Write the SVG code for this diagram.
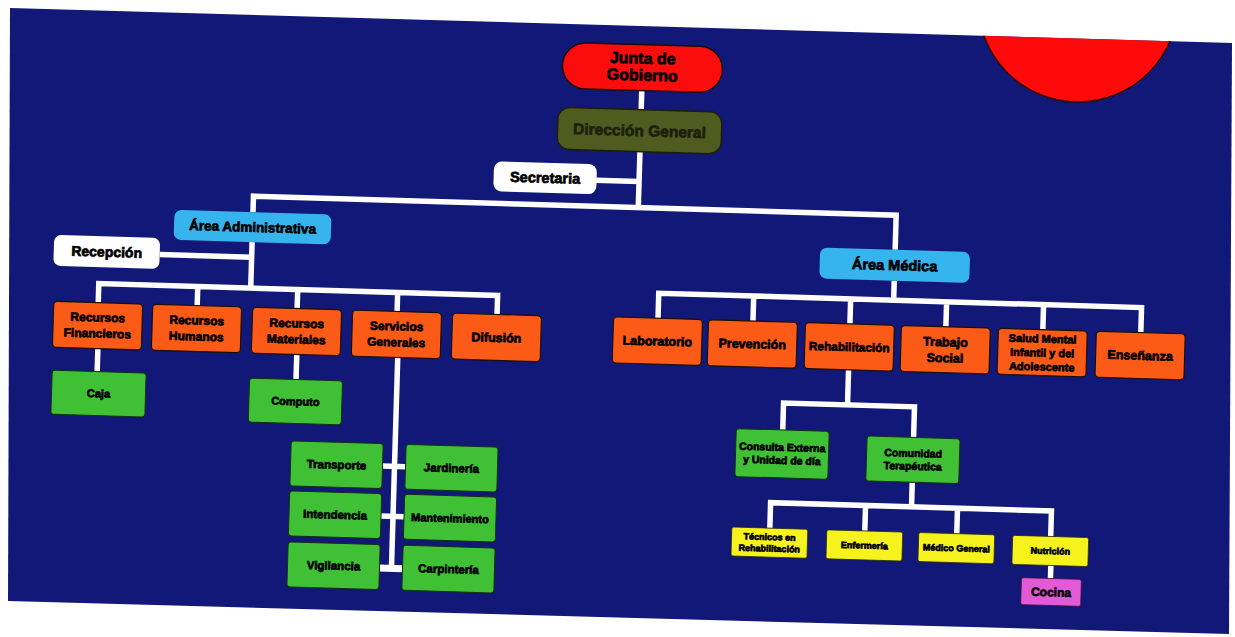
<svg xmlns="http://www.w3.org/2000/svg" width="1235" height="637" viewBox="0 0 1235 637">
<defs>
<clipPath id="slideClip"><polygon points="10,8 1232,43 1229,634 8,601"/></clipPath>
<style>
text{font-family:"Liberation Sans",Arial,sans-serif;font-weight:bold;fill:#000;text-anchor:middle;stroke:#000;stroke-width:0.7}
.red{fill:#fb0d0d;stroke:#1a0a0a;stroke-width:1.5}
.olive{fill:#4f5b1f;stroke:#1c2008;stroke-width:1.5}
.white{fill:#ffffff}
.blue{fill:#36b4ee}
.orange{fill:#fb5b16;stroke:#1a0e08;stroke-width:1.2}
.green{fill:#3fc035;stroke:#123010;stroke-width:1}
.yellow{fill:#f6f21e;stroke:#2a2a08;stroke-width:0.8}
.pink{fill:#e35ad6;stroke:#3a1038;stroke-width:0.8}
.dark{fill:#1d200c;stroke:#1d200c}
#connectors path{fill:none;stroke:#ffffff;stroke-width:5.5}
</style>
</defs>
<rect width="1235" height="637" fill="#ffffff"/>
<polygon points="10,8 1232,43 1229,634 8,601" fill="#111877"/>
<circle cx="1078" cy="2" r="100" fill="#ff0a0a" stroke="#300" stroke-width="1.5" clip-path="url(#slideClip)"/>
<g transform="rotate(1.7 617 318)">
<g id="connectors">
<path d="M635,90 V109"/>
<path d="M635,151 V207"/>
<path d="M592,181 H635"/>
<path d="M250,223 V207 H893 V241.5"/>
<path d="M250,253 V299"/>
<path d="M158,268 H250"/>
<path d="M98,318 V299 H497 V318 M197,299 V318 M297,299 V318 M397,299 V318"/>
<path d="M99,364 V387"/>
<path d="M298,364 V389"/>
<path d="M399,364 V577"/>
<path d="M387,473 H410 M387,523 H410"/>
<path d="M387,575 H410" style="stroke-width:7"/>
<path d="M893,272.5 V292"/>
<path d="M658,317 V292 H1141 V317 M753,292 V317 M850,292 V317 M946,292 V317 M1043,292 V317"/>
<path d="M850,363 V398"/>
<path d="M786,425 V398 H917 V428.5"/>
<path d="M917,473.5 V498"/>
<path d="M776,523.5 V498 H1057 V523.5 M871,498 V523.5 M963,498 V523.5"/>
<path d="M1058,552.5 V565.5"/>
</g>
<g id="junta"><rect class="red" x="555" y="44" width="160" height="46" rx="23"/><text x="635" y="63" font-size="16">Junta de</text><text x="635" y="80" font-size="16">Gobierno</text></g>
<g id="direccion"><rect class="olive" x="552" y="109" width="164" height="42" rx="12"/><text class="dark" x="634" y="135.5" font-size="15.5">Dirección General</text></g>
<g id="secretaria"><rect class="white" x="489.5" y="165" width="103" height="30" rx="8"/><text x="541" y="185" font-size="14.5">Secretaria</text></g>
<g id="area-adm"><rect class="blue" x="171.5" y="223" width="157" height="30" rx="7"/><text x="250" y="242.7" font-size="13.5">Área Administrativa</text></g>
<g id="recepcion"><rect class="white" x="52" y="251.5" width="106" height="31" rx="7"/><text x="105" y="272" font-size="14">Recepción</text></g>
<g id="area-med"><rect class="blue" x="818" y="241.5" width="150" height="31" rx="7"/><text x="893" y="262" font-size="14.5">Área Médica</text></g>
<g id="rec-fin"><rect class="orange" x="53.5" y="318" width="89" height="46" rx="4"/><text x="98" y="337" font-size="12">Recursos</text><text x="98" y="353" font-size="12">Financieros</text></g>
<g id="rec-hum"><rect class="orange" x="152.5" y="318" width="89" height="46" rx="4"/><text x="197" y="337" font-size="12">Recursos</text><text x="197" y="353" font-size="12">Humanos</text></g>
<g id="rec-mat"><rect class="orange" x="252.5" y="318" width="89" height="46" rx="4"/><text x="297" y="337" font-size="12">Recursos</text><text x="297" y="353" font-size="12">Materiales</text></g>
<g id="serv-gen"><rect class="orange" x="352.5" y="318" width="89" height="46" rx="4"/><text x="397" y="337" font-size="12">Servicios</text><text x="397" y="353" font-size="12">Generales</text></g>
<g id="difusion"><rect class="orange" x="452.5" y="318" width="89" height="46" rx="4"/><text x="497" y="345.5" font-size="12.5">Difusión</text></g>
<g id="caja"><rect class="green" x="54" y="387" width="94" height="44" rx="3"/><text x="101" y="412.8" font-size="11">Caja</text></g>
<g id="computo"><rect class="green" x="251.5" y="389" width="93" height="44" rx="3"/><text x="298" y="414.8" font-size="11">Computo</text></g>
<g id="transporte"><rect class="green" x="295" y="450.5" width="92" height="45" rx="3"/><text x="341" y="477" font-size="11.5">Transporte</text></g>
<g id="jardineria"><rect class="green" x="410" y="450.5" width="92" height="45" rx="3"/><text x="456" y="477" font-size="11.5">Jardinería</text></g>
<g id="intendencia"><rect class="green" x="295" y="500.5" width="92" height="45" rx="3"/><text x="341" y="527" font-size="11.5">Intendencia</text></g>
<g id="mantenimiento"><rect class="green" x="410" y="500.5" width="92" height="45" rx="3"/><text x="456" y="527" font-size="11">Mantenimiento</text></g>
<g id="vigilancia"><rect class="green" x="295" y="551.5" width="92" height="45" rx="3"/><text x="341" y="578" font-size="11.5">Vigilancia</text></g>
<g id="carpinteria"><rect class="green" x="410" y="551.5" width="92" height="45" rx="3"/><text x="456" y="578" font-size="11.5">Carpintería</text></g>
<g id="laboratorio"><rect class="orange" x="613.5" y="317" width="89" height="46" rx="4"/><text x="658" y="344.3" font-size="12.5">Laboratorio</text></g>
<g id="prevencion"><rect class="orange" x="708.5" y="317" width="89" height="46" rx="4"/><text x="753" y="344.3" font-size="12.5">Prevención</text></g>
<g id="rehabilitacion"><rect class="orange" x="805.5" y="317" width="89" height="46" rx="4"/><text x="850" y="344.2" font-size="11.8">Rehabilitación</text></g>
<g id="trabajo-social"><rect class="orange" x="901.5" y="317" width="89" height="46" rx="4"/><text x="946" y="336.5" font-size="12.5">Trabajo</text><text x="946" y="352.5" font-size="12.5">Social</text></g>
<g id="salud-mental"><rect class="orange" x="998.5" y="317" width="89" height="46" rx="4"/><text x="1043" y="330" font-size="11">Salud Mental</text><text x="1043" y="344" font-size="11">Infantil y del</text><text x="1043" y="358" font-size="11">Adolescente</text></g>
<g id="ensenanza"><rect class="orange" x="1096.5" y="317" width="89" height="46" rx="4"/><text x="1141" y="344.3" font-size="12.5">Enseñanza</text></g>
<g id="consulta"><rect class="green" x="739.5" y="425" width="93" height="48" rx="3"/><text x="786" y="446" font-size="10.5">Consulta Externa</text><text x="786" y="459" font-size="10.5">y Unidad de día</text></g>
<g id="comunidad"><rect class="green" x="870.5" y="428.5" width="93" height="45" rx="3"/><text x="917" y="448" font-size="10.5">Comunidad</text><text x="917" y="461" font-size="10.5">Terapéutica</text></g>
<g id="tecnicos"><rect class="yellow" x="738" y="523.5" width="76" height="29" rx="2"/><text x="776" y="535.5" font-size="9">Técnicos en</text><text x="776" y="547" font-size="9">Rehabilitación</text></g>
<g id="enfermeria"><rect class="yellow" x="833" y="523.5" width="76" height="29" rx="2"/><text x="871" y="541.2" font-size="9">Enfermería</text></g>
<g id="medico"><rect class="yellow" x="925" y="523.5" width="76" height="29" rx="2"/><text x="963" y="541.2" font-size="9">Médico General</text></g>
<g id="nutricion"><rect class="yellow" x="1019" y="523.5" width="76" height="29" rx="2"/><text x="1057" y="541.2" font-size="9">Nutrición</text></g>
<g id="cocina"><rect class="pink" x="1029" y="565.5" width="60" height="27" rx="2"/><text x="1059" y="583.3" font-size="12">Cocina</text></g>
</g>
</svg>
